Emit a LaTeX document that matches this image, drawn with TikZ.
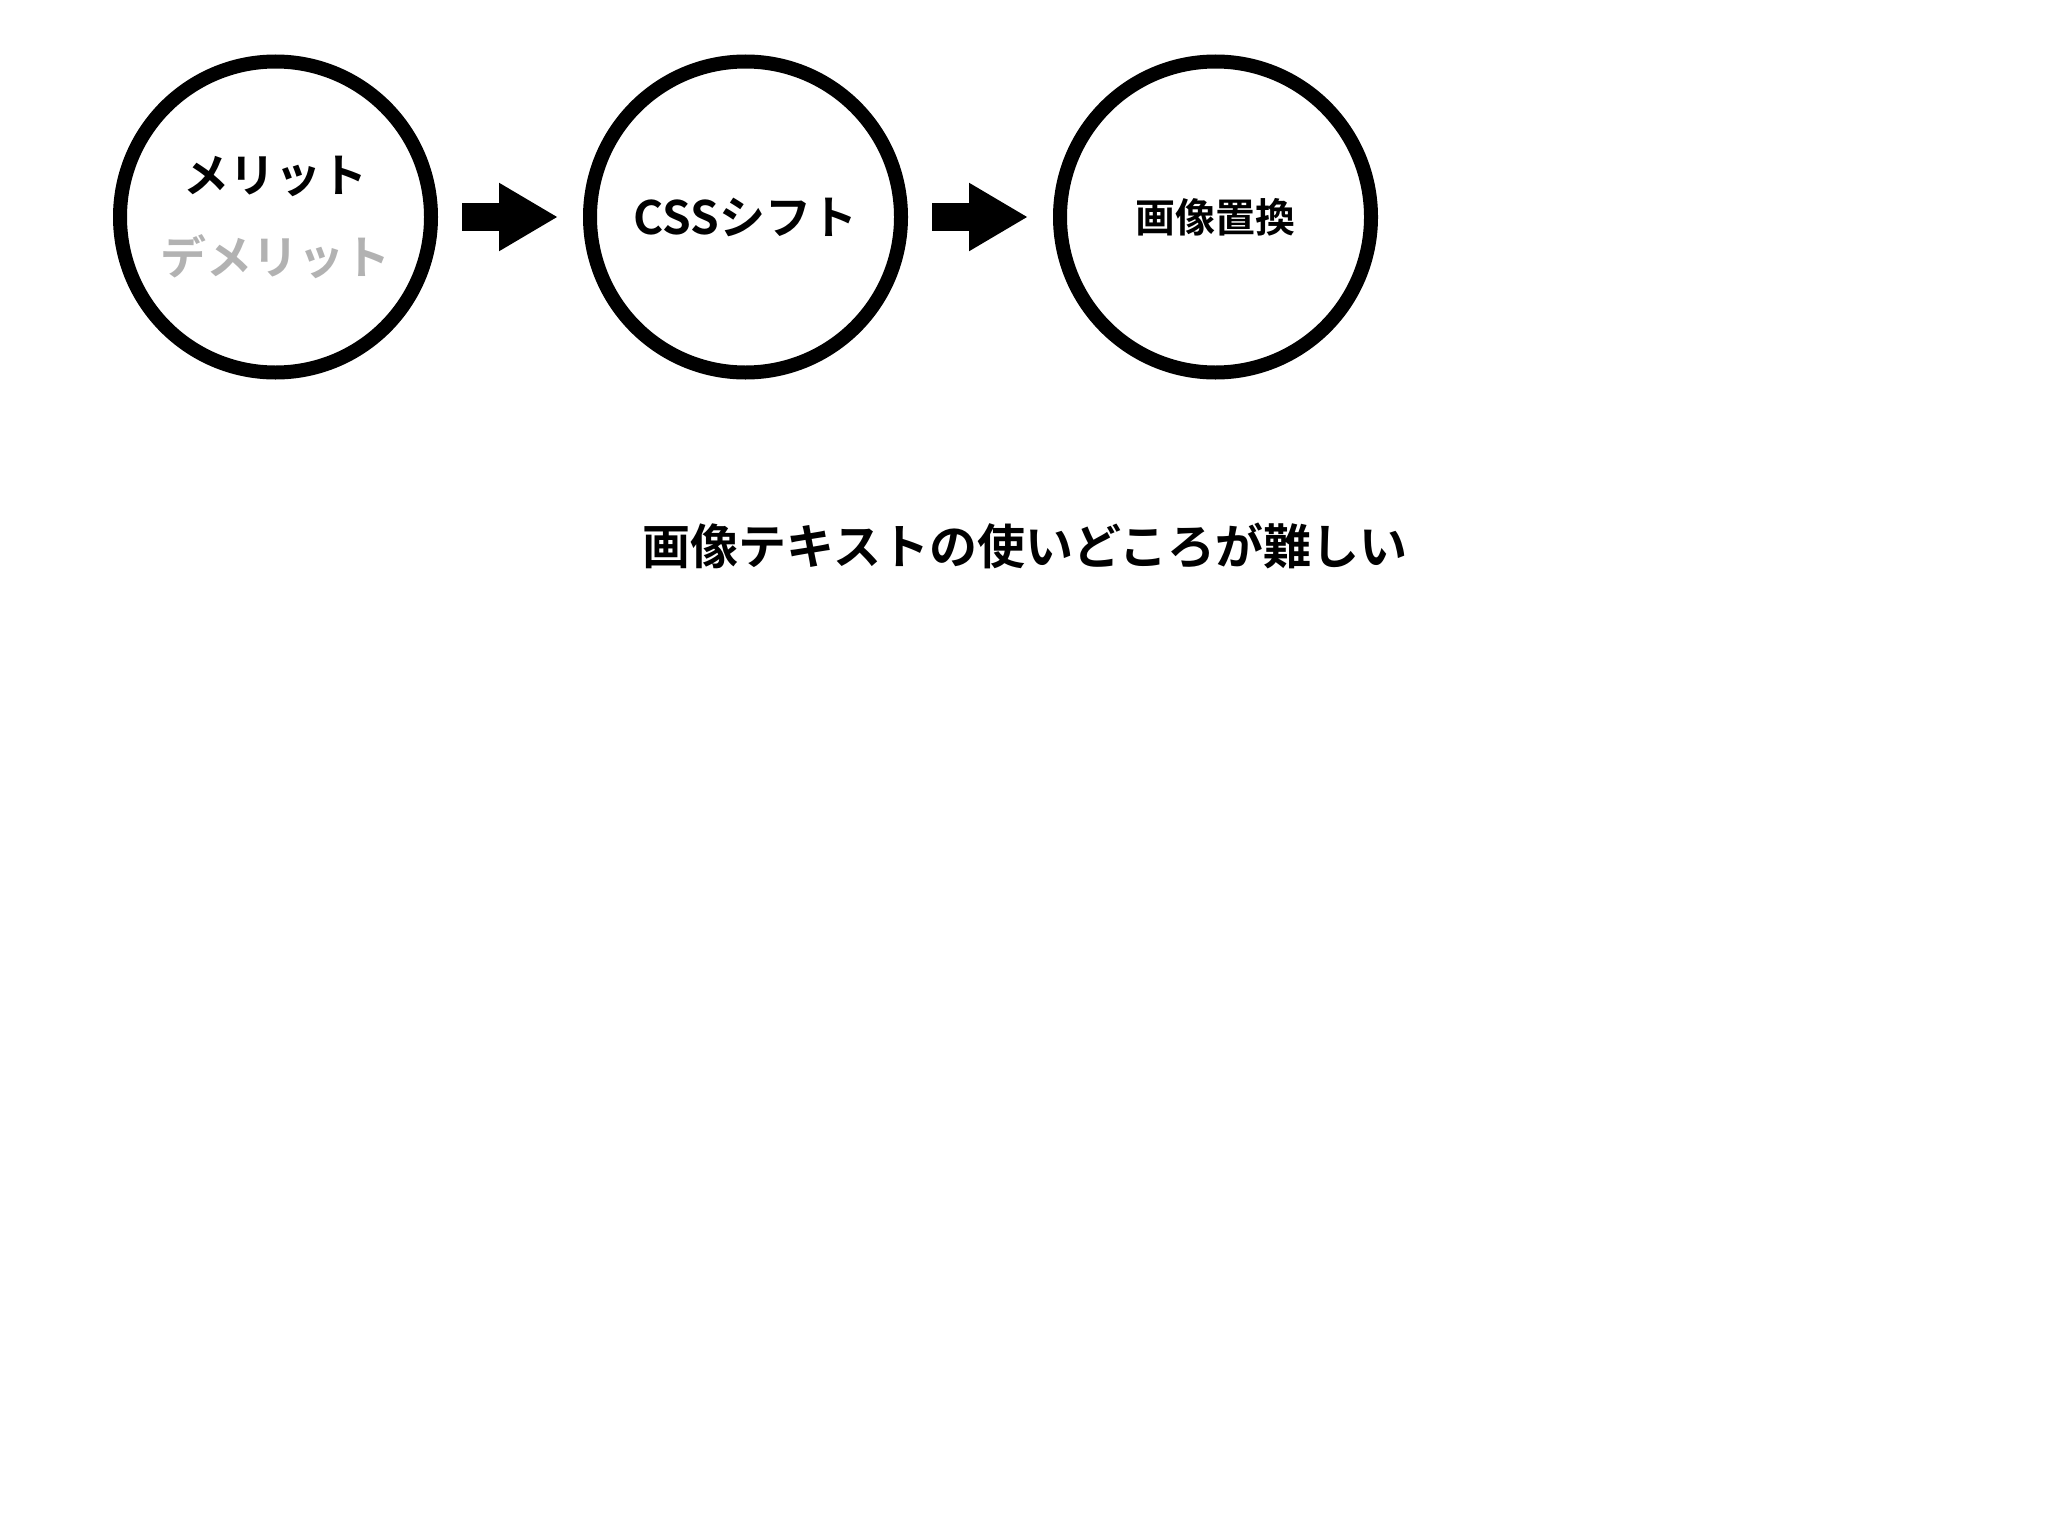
\documentclass[tikz,border=0pt]{standalone}
\usepackage{fontspec}
\usepackage{tikz}
\usetikzlibrary{positioning,arrows.meta}
\newfontfamily\jp{Noto Sans CJK JP}[UprightFont=* Bold]
\definecolor{demgray}{RGB}{178,178,178}

\begin{document}
\begin{tikzpicture}[x=0.5pt,y=-0.5pt,
    circ/.style={circle,draw,line width=7pt,minimum size=155.5pt,inner sep=0pt,
        align=center,font=\jp\fontsize{23}{41}\selectfont},
    blockarrow/.style={line width=14pt,-{Triangle[length=29.5pt,width=32pt]},
        shorten <=12pt,shorten >=12.5pt}]

    \useasboundingbox (0,0) rectangle (2048,1536);

    %\matrix could do the row, but three nodes are enough
    \node[circ] (m) at (275.5,217) {メリット\\\textcolor{demgray}{デメリット}};
    \node[circ,right=72.5pt of m] (css) {CSSシフト};
    \node[circ,right=72.5pt of css,font=\jp\fontsize{20}{24}\selectfont] (img) {画像置換};

    \draw[blockarrow] (m) -- (css);
    \draw[blockarrow] (css) -- (img);

    \node[font=\jp\fontsize{24}{28}\selectfont] (t) at (1025,546) {画像テキストの使いどころが難しい};
    \end{tikzpicture}
\end{document}
